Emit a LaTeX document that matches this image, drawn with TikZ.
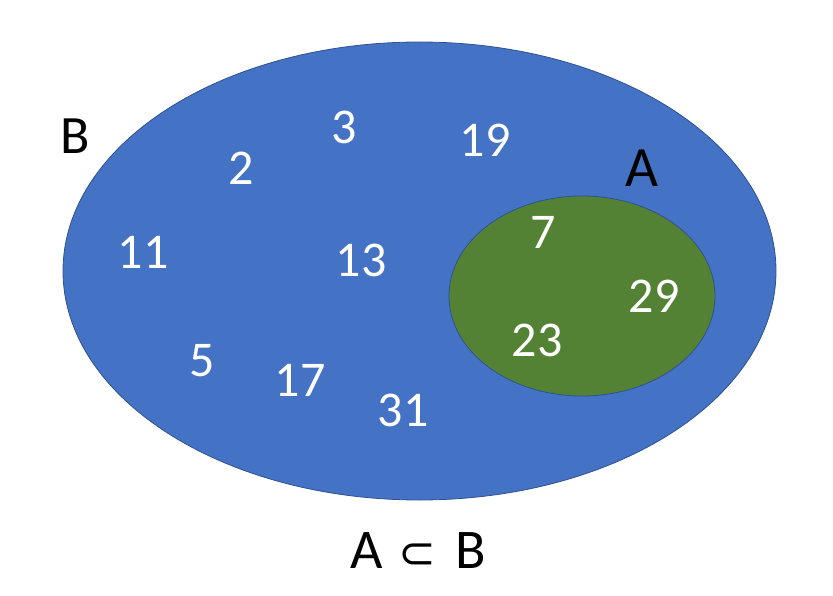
\documentclass[tikz,border=0pt]{standalone}
\usepackage{fontspec}
\setmainfont{Carlito}
\newfontfamily\symfont{DejaVu Sans}
\usepackage{tikz}
\usetikzlibrary{positioning}
\definecolor{setb}{RGB}{68,114,196}
\definecolor{seta}{RGB}{84,130,53}
\definecolor{rim}{RGB}{47,82,143}
\begin{document}
\begin{tikzpicture}[x=1pt,y=-1pt,
  setB/.style={fill=setb,draw=rim,line width=0.8pt},
  setA/.style={fill=seta,draw=rim,line width=0.8pt},
  num/.style={text=white,inner sep=0pt,font=\fontsize{50}{56}\selectfont},
  lbl/.style={text=black,inner sep=0pt,font=\fontsize{54}{60}\selectfont}]
  \useasboundingbox (0,0) rectangle (833,596);
  % the two sets
  \path[setB] (419.5,271) ellipse [x radius=356.5,y radius=229];
  \path[setA] (582,296) ellipse [x radius=133,y radius=100];
  % labels
  \node[lbl] (labB) at (75.5,136) {B};
  \node[lbl,font=\fontsize{57}{60}\selectfont] (labA) at (642,168) {A};
  \node[lbl,font=\fontsize{56}{60}\selectfont,anchor=base] (sub) at (418,568)
    {A\hspace{16pt}{\symfont\fontsize{45}{50}\selectfont ⊂}\hspace{19pt}B};
  % elements of B only
  \node[num] (n2) at (241,168) {2};
  \node[num] (n3) at (344,127) {3};
  \node[num] (n19) at (485,140) {19};
  \node[num] (n11) at (143,252) {11};
  \node[num] (n13) at (361,260) {13};
  \node[num] (n5) at (202,361) {5};
  \node[num] (n17) at (300,380) {17};
  \node[num] (n31) at (403,410) {31};
  % elements of A
  \node[num] (n7) at (543,232) {7};
  \node[num] (n29) at (654,296) {29};
  \node[num] (n23) at (537,340) {23};
\end{tikzpicture}
\end{document}
